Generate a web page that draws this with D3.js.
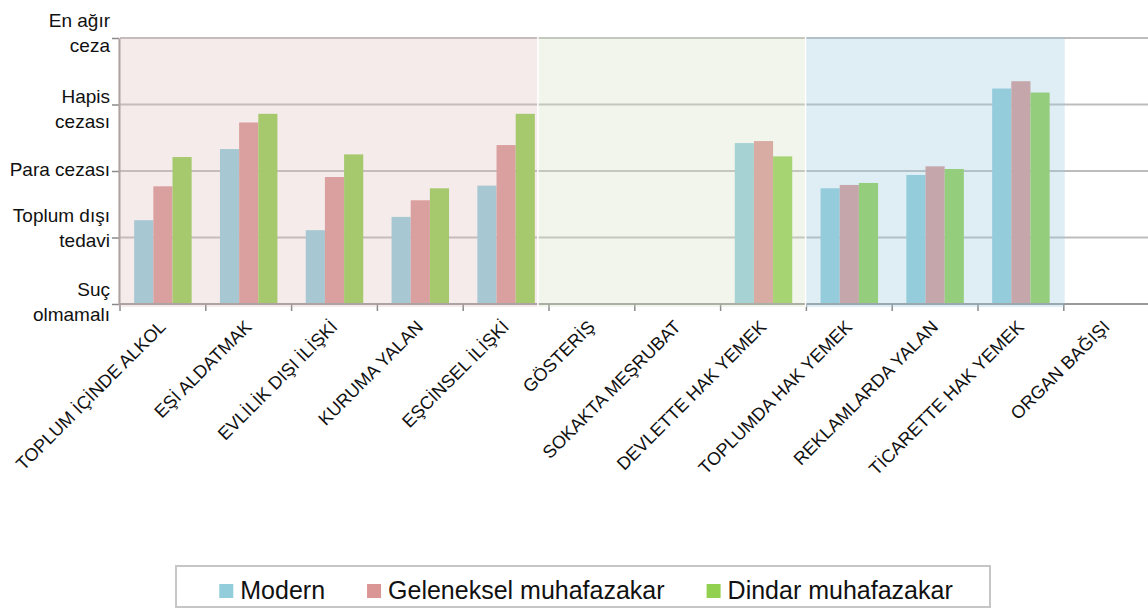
<!DOCTYPE html>
<html>
<head>
<meta charset="utf-8">
<script src="https://cdn.jsdelivr.net/npm/d3@7"></script>
<style>
  body { margin: 0; background: #fff; }
  svg { display: block; font-family: "Liberation Sans", Arial, sans-serif; }
</style>
</head>
<body>
<script>
    // categories (x axis)
    const categories = [
        "TOPLUM İÇİNDE ALKOL", "EŞİ ALDATMAK", "EVLİLİK DIŞI İLİŞKİ", "KURUMA YALAN",
        "EŞCİNSEL İLİŞKİ", "GÖSTERİŞ", "SOKAKTA MEŞRUBAT", "DEVLETTE HAK YEMEK",
        "TOPLUMDA HAK YEMEK", "REKLAMLARDA YALAN", "TİCARETTE HAK YEMEK", "ORGAN BAĞIŞI"
    ];

    const seriesNames = ["Modern", "Geleneksel muhafazakar", "Dindar muhafazakar"];

    // values on the 0..4 punishment scale, null = no bar
    const modern     = [1.26, 2.33, 1.11, 1.31, 1.78, null, null, 2.42, 1.74, 1.94, 3.24, null];
    const geleneksel = [1.77, 2.73, 1.91, 1.56, 2.39, null, null, 2.45, 1.79, 2.07, 3.35, null];
    const dindar     = [2.21, 2.86, 2.25, 1.74, 2.86, null, null, 2.22, 1.82, 2.03, 3.18, null];

    // y tick labels, one per level 0..4
    const levelLabels = [
        ["Suç", "olmamalı"],
        ["Toplum dışı", "tedavi"],
        ["Para cezası"],
        ["Hapis", "cezası"],
        ["En ağır", "ceza"]
    ];

    // shaded category groups (in category units)
    const regionStart = [0, 4.87, 7.99];
    const regionEnd   = [4.87, 7.99, 11.01];

    const seriesColors = ['#92cddc', '#da9694', '#92d050'];
    const regionColors = ['rgb(221,186,186)', 'rgb(213,223,194)', 'rgb(152,202,221)'];
    const regionOpacity = [0.29, 0.31, 0.32];
    // small vertical nudges for the wrapped y labels
    const levelLabelShift = [-1.5, -8.5, -1, 5, -4];

    const W = 1148, H = 615;
    const margin = {left: 120, top: 38, right: W - 1149.6, bottom: H - 304};
    const width = W - margin.left - margin.right,
        height = H - margin.top - margin.bottom;

    const svg = d3.select('body').append('svg')
        .attr('width', W)
        .attr('height', H);

    const g = svg.append('g')
        .attr('transform', `translate(${margin.left}, ${margin.top})`);

    // scales
    const xScale = d3.scaleBand()
        .domain(categories)
        .range([0, width])
        .padding(0);
    const step = xScale.step();

    const xUnit = d3.scaleLinear()
        .domain([0, categories.length])
        .range([0, width]);

    const xInner = d3.scaleBand()
        .domain(seriesNames)
        .range([step * 0.165, step * 0.835])
        .padding(0);

    const yScale = d3.scaleLinear()
        .domain([0, 4])
        .range([height, 0]);

    // gridlines
    g.append('g')
        .attr('class', 'grid')
        .selectAll('line')
        .data(d3.range(1, 5))
        .enter()
        .append('line')
            .attr('x1', 0)
            .attr('x2', width)
            .attr('y1', d => yScale(d))
            .attr('y2', d => yScale(d))
            .attr('stroke', '#bdbdbd')
            .attr('stroke-width', 1.8);

    // bars
    const series = [modern, geleneksel, dindar];
    const barData = [];
    categories.forEach((c, i) => {
        series.forEach((s, j) => {
            if (s[i] != null) barData.push({cat: c, name: seriesNames[j], value: s[i], color: seriesColors[j]});
        });
    });

    g.selectAll('rect.bar')
        .data(barData)
        .enter()
        .append('rect')
            .attr('class', 'bar')
            .attr('x', d => xScale(d.cat) + xInner(d.name))
            .attr('y', d => yScale(d.value))
            .attr('width', xInner.bandwidth())
            .attr('height', d => height - yScale(d.value))
            .attr('fill', d => d.color);

    // axes
    const xAxis = d3.axisBottom(xScale)
        .tickValues([])
        .tickSizeOuter(0);

    const xAxisGroup = g.append('g')
        .attr('class', 'axis x-axis')
        .attr('transform', `translate(0, ${height})`)
        .call(xAxis);
    xAxisGroup.select('.domain')
        .attr('d', `M-1,0H${width}`)
        .attr('stroke', '#9a9a9a')
        .attr('stroke-width', 2);

    // category boundary ticks
    xAxisGroup.selectAll('line.bound')
        .data(d3.range(0, categories.length))
        .enter()
        .append('line')
            .attr('class', 'bound')
            .attr('x1', d => xUnit(d))
            .attr('x2', d => xUnit(d))
            .attr('y1', 0)
            .attr('y2', 7)
            .attr('stroke', '#8a8a8a')
            .attr('stroke-width', 1.5);

    const yAxis = d3.axisLeft(yScale)
        .tickValues(d3.range(0, 5))
        .tickSize(7)
        .tickSizeOuter(0)
        .tickFormat('');

    const yAxisGroup = g.append('g')
        .attr('class', 'axis y-axis')
        .attr('transform', 'translate(-1, 0)')
        .call(yAxis);
    yAxisGroup.select('.domain')
        .attr('stroke', '#9a9a9a')
        .attr('stroke-width', 2);
    yAxisGroup.selectAll('.tick line')
        .attr('stroke', '#8a8a8a')
        .attr('stroke-width', 1.5);

    // y labels (wrapped)
    yAxisGroup.selectAll('.tick').each(function(d) {
        const lines = levelLabels[d];
        const lh = 25;
        const first = levelLabelShift[d] - (lines.length - 1) * lh / 2 + 5;
        const t = d3.select(this).append('text')
            .attr('x', -9)
            .attr('text-anchor', 'end')
            .attr('fill', '#111')
            .attr('font-size', '19px');
        lines.forEach((l, k) => {
            t.append('tspan')
                .attr('x', -9)
                .attr('y', first + k * lh)
                .text(l);
        });
    });

    // shaded groups on top of bars
    g.selectAll('rect.region')
        .data(regionStart)
        .enter()
        .append('rect')
            .attr('class', 'region')
            .attr('x', (d, i) => xUnit(d) - (i === 0 ? 2 : 0))
            .attr('y', -1)
            .attr('width', (d, i) => xUnit(regionEnd[i]) - xUnit(d) + (i === 0 ? 2 : 0))
            .attr('height', height + 4)
            .attr('fill', (d, i) => regionColors[i])
            .attr('fill-opacity', (d, i) => regionOpacity[i]);

    // white separators between touching groups
    g.selectAll('line.sep')
        .data(regionStart.slice(1))
        .enter()
        .append('line')
            .attr('class', 'sep')
            .attr('x1', d => xUnit(d))
            .attr('x2', d => xUnit(d))
            .attr('y1', -1)
            .attr('y2', height + 3)
            .attr('stroke', '#fff')
            .attr('stroke-width', 1.5);

    // x labels
    g.append('g')
        .attr('class', 'x-labels')
        .selectAll('text')
        .data(categories)
        .enter()
        .append('text')
            .attr('transform', d => `translate(${xScale(d) + step / 2 + 4}, ${height + 24}) rotate(-45)`)
            .attr('text-anchor', 'end')
            .attr('font-size', '18px')
            .attr('fill', '#111')
            .text(d => d);

    // legend
    const legend = svg.append('g').attr('class', 'legend');
    const items = legend.selectAll('g')
        .data(seriesNames)
        .enter()
        .append('g');
    items.append('rect')
        .attr('width', 14)
        .attr('height', 14)
        .attr('y', -15)
        .attr('fill', (d, i) => seriesColors[i]);
    items.append('text')
        .attr('x', 21)
        .attr('font-size', '25px')
        .attr('fill', '#111')
        .text(d => d);

    let lx = 0;
    const gap = 42;
    items.each(function() {
        const w = this.getBBox().width;
        d3.select(this).attr('transform', `translate(${lx}, 0)`);
        lx += w + gap;
    });
    const totalW = lx - gap;
    const lcx = 586;
    const lx0 = lcx - totalW / 2;
    legend.attr('transform', `translate(${lx0}, 599)`);
    legend.insert('rect', ':first-child')
        .attr('x', 176 - lx0)
        .attr('y', -33)
        .attr('width', 814)
        .attr('height', 41)
        .attr('fill', 'none')
        .attr('stroke', '#c6c6c6')
        .attr('stroke-width', 2);
</script>
</body>
</html>
